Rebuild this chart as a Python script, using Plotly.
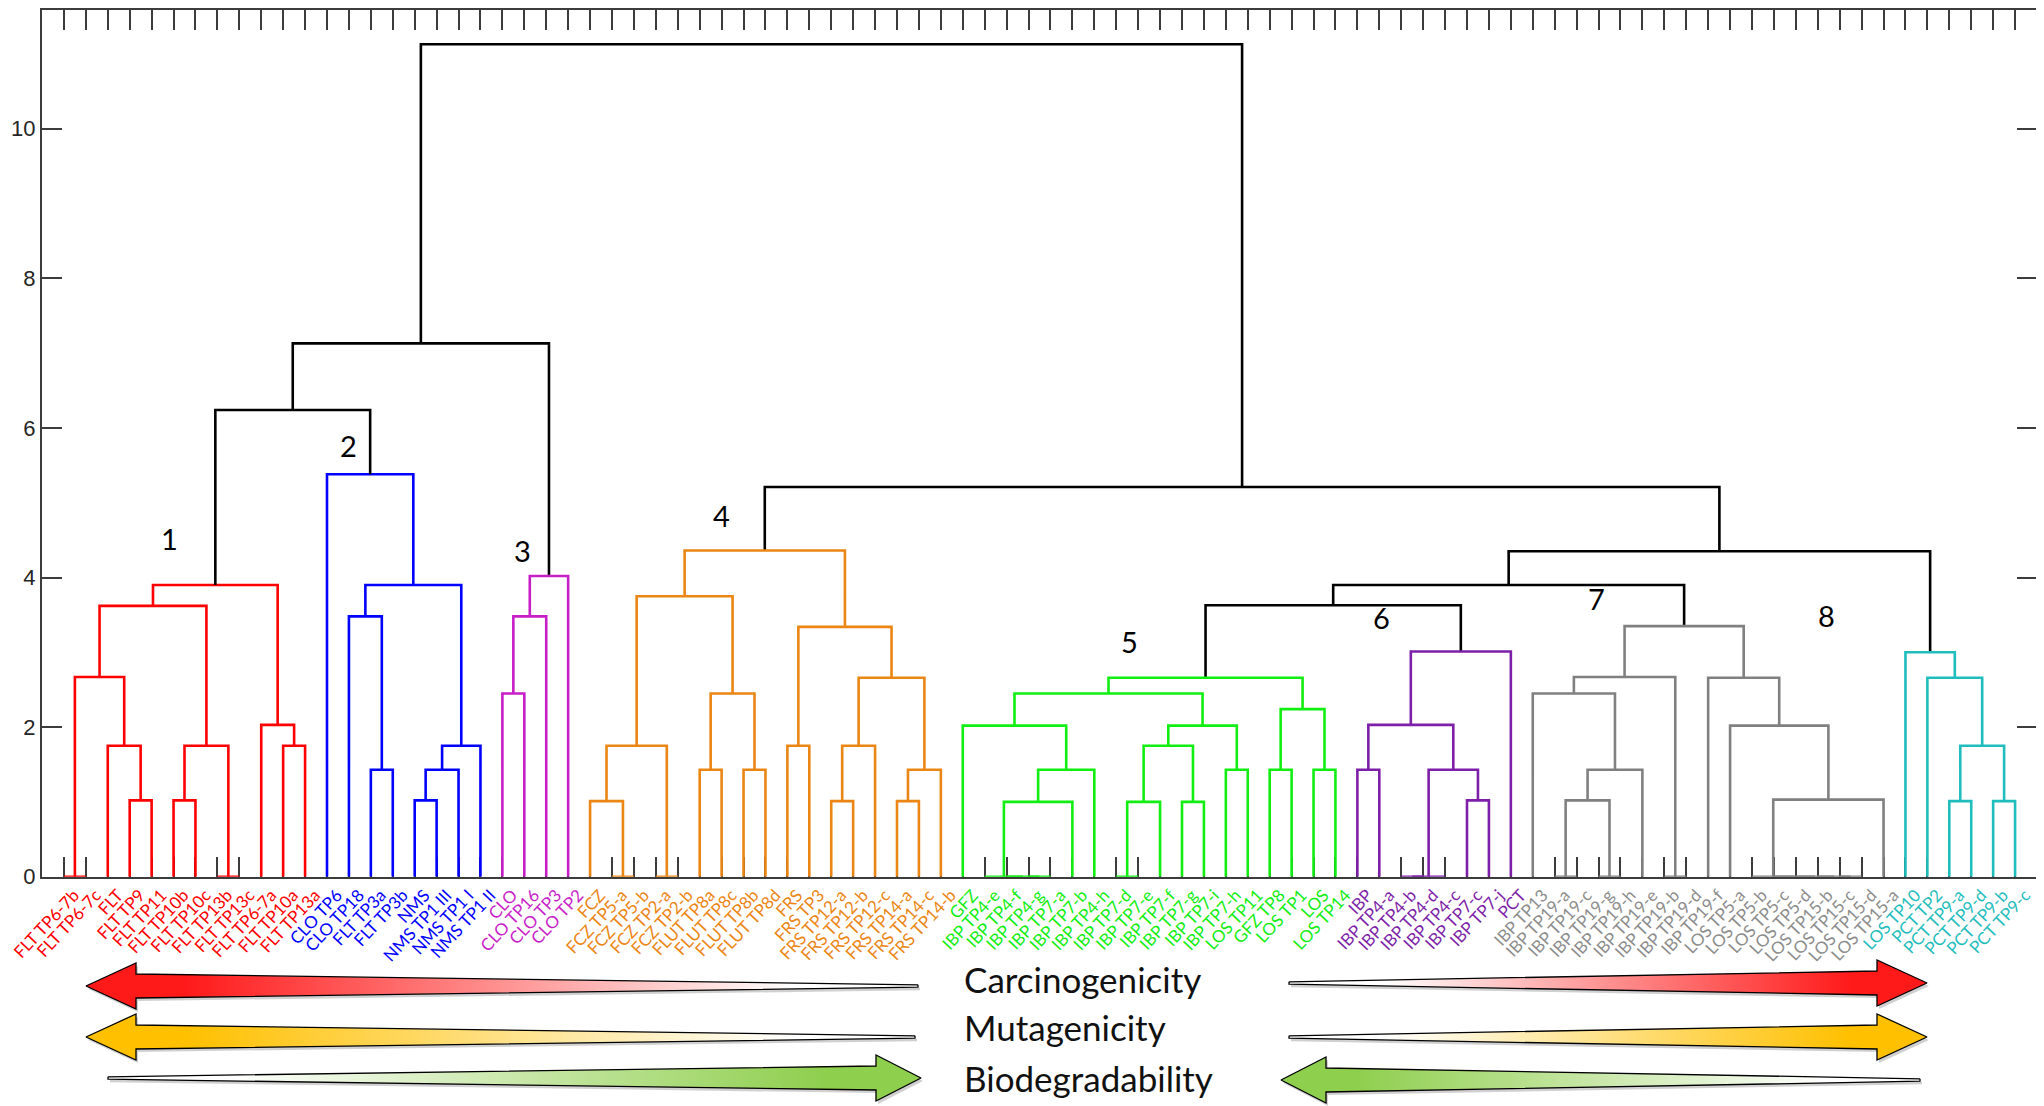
import plotly.graph_objects as go

# ---------------- data: dendrogram trees (left, right, merge height) ----------------
cluster1_tree = (
    ((("FLT TP6-7b", "FLT TP6-7c", 0.0), ("FLT", ("FLT TP9", "FLT TP11", 1.02), 1.75), 2.67),
     (("FLT TP10b", "FLT TP10c", 1.02), ("FLT TP13b", "FLT TP13c", 0.0), 1.75), 3.62),
    ("FLT TP6-7a", ("FLT TP10a", "FLT TP13a", 1.75), 2.03), 3.90)

cluster2_tree = (
    "CLO TP6",
    (("CLO TP18", ("FLT TP3a", "FLT TP3b", 1.43), 3.48),
     ((("NMS", "NMS TP1 III", 1.02), "NMS TP1 I", 1.43), "NMS TP1 II", 1.75), 3.90),
    5.38)

cluster3_tree = ((("CLO", "CLO TP16", 2.45), "CLO TP3", 3.48), "CLO TP2", 4.02)

cluster4_tree = (
    ((("FCZ", ("FCZ TP5-a", "FCZ TP5-b", 0.0), 1.01), ("FCZ TP2-a", "FCZ TP2-b", 0.0), 1.75),
     (("FLUT TP8a", "FLUT TP8c", 1.43), ("FLUT TP8b", "FLUT TP8d", 1.43), 2.45), 3.75),
    (("FRS", "FRS TP3", 1.75),
     ((("FRS TP12-a", "FRS TP12-b", 1.01), "FRS TP12-c", 1.75),
      (("FRS TP14-a", "FRS TP14-c", 1.01), "FRS TP14-b", 1.43), 2.66), 3.34),
    4.36)

cluster5_tree = (
    (("GFZ", ((("IBP TP4-e", ("IBP TP4-f", ("IBP TP4-g", "IBP TP7-a", 0.0), 0.0), 0.0),
               "IBP TP7-b", 1.00), "IBP TP4-h", 1.43), 2.02),
     (((("IBP TP7-d", "IBP TP7-e", 0.0), "IBP TP7-f", 1.00), ("IBP TP7-g", "IBP TP7-i", 1.00), 1.75),
      ("IBP TP7-h", "LOS TP11", 1.43), 2.02), 2.45),
    (("GFZ TP8", "LOS TP1", 1.43), ("LOS", "LOS TP14", 1.43), 2.24),
    2.66)

cluster6_tree = (
    (("IBP", "IBP TP4-a", 1.43),
     ((("IBP TP4-b", "IBP TP4-d", 0.0), "IBP TP4-c", 0.0), ("IBP TP7-c", "IBP TP7-j", 1.02), 1.43), 2.03),
    "PCT", 3.01)

cluster7_tree = (
    (("IBP TP13", ((("IBP TP19-a", "IBP TP19-c", 0.0), ("IBP TP19-g", "IBP TP19-h", 0.0), 1.02),
                   "IBP TP19-e", 1.43), 2.45),
     ("IBP TP19-b", "IBP TP19-d", 0.0), 2.67),
    ("IBP TP19-f",
     ("LOS TP5-a",
      (("LOS TP5-b", ("LOS TP5-c", ("LOS TP5-d", ("LOS TP15-b", ("LOS TP15-c", "LOS TP15-d", 0.0),
                                                   0.0), 0.0), 0.0), 0.0), "LOS TP15-a", 1.03), 2.02), 2.66),
    3.35)

cluster8_tree = (
    "LOS TP10",
    ("PCT TP2", (("PCT TP9-a", "PCT TP9-d", 1.01), ("PCT TP9-b", "PCT TP9-c", 1.01), 1.75), 2.66),
    3.00)

# links between clusters (integers = cluster index)
top_tree = (((0, 1, 6.24), 2, 7.13), (3, (((4, 5, 3.63), 6, 3.90), 7, 4.35), 5.21), 11.13)

cluster_trees = [cluster1_tree, cluster2_tree, cluster3_tree, cluster4_tree,
                 cluster5_tree, cluster6_tree, cluster7_tree, cluster8_tree]
cluster_colors = ["#FF0000", "#0000FF", "#C81EC8", "#EB8513",
                  "#11EE11", "#7D1FA8", "#808080", "#1FBDBD"]
label_colors = ["#FF0000", "#0000FF", "#C81EC8", "#EB8513",
                "#11EE11", "#7D1FA8", "#8C8C8C", "#1FBDBD"]
link_color = "#000000"

cluster_numbers = ["1", "2", "3", "4", "5", "6", "7", "8"]
cluster_number_x = [5.8, 14.0, 21.9, 31.0, 49.6, 61.1, 70.9, 81.4]
cluster_number_y = [4.52, 5.76, 4.36, 4.83, 3.14, 3.47, 3.72, 3.49]

y_ticks = [0, 2, 4, 6, 8, 10]

# bottom arrows (decoration, in pixel-like coordinates of an overlay axis)
arrow_names = ["Carcinogenicity", "Mutagenicity", "Biodegradability"]
arrow_colors = ["#FF1A1A", "#FFC000", "#8FCF4E"]
arrow_rows_y = [979, 1027, 1078]

# ---------------- build leaves and segments ----------------
leaves, leaf_cluster = [], []


def collect(node, k):
    if isinstance(node, str):
        leaves.append(node)
        leaf_cluster.append(k)
    else:
        collect(node[0], k)
        collect(node[1], k)


def collect_top(node):
    if isinstance(node, int):
        collect(cluster_trees[node], node)
    else:
        collect_top(node[0])
        collect_top(node[1])


collect_top(top_tree)
pos = {name: i + 1 for i, name in enumerate(leaves)}

segs = {}


def add_seg(color, xs, ys):
    s = segs.setdefault(color, ([], []))
    s[0].extend(xs + [None])
    s[1].extend(ys + [None])


def draw(node, color):
    if isinstance(node, str):
        return pos[node], 0.0
    l, r, h = node
    xl, hl = draw(l, color)
    xr, hr = draw(r, color)
    add_seg(color, [xl, xl, xr, xr], [hl, h, h, hr])
    return (xl + xr) / 2.0, h


def draw_top(node):
    if isinstance(node, int):
        return draw(cluster_trees[node], cluster_colors[node])
    l, r, h = node
    xl, hl = draw_top(l)
    xr, hr = draw_top(r)
    add_seg(link_color, [xl, xl, xr, xr], [hl, h, h, hr])
    return (xl + xr) / 2.0, h


draw_top(top_tree)

fig = go.Figure()
for color, (xs, ys) in segs.items():
    fig.add_trace(go.Scatter(x=xs, y=ys, mode="lines",
                             line=dict(color=color, width=2.6),
                             hoverinfo="skip", showlegend=False))

# ---------------- arrows ----------------
def arrow_poly(tail_x, tip_x, yc, head_len, head_half, shaft_half, tail_half):
    d = 1 if tip_x > tail_x else -1
    hb = tip_x - d * head_len
    xs = [tail_x, hb, hb, tip_x, hb, hb, tail_x, tail_x]
    ys = [yc - tail_half, yc - shaft_half, yc - head_half, yc,
          yc + head_half, yc + shaft_half, yc + tail_half, yc - tail_half]
    return xs, ys


# (tail x, tip x, centre y, colour index)
arrow_specs = [
    (918, 86, 986, 0), (1289, 1927, 983, 0),
    (915, 86, 1037, 1), (1289, 1927, 1037, 1),
    (108, 921, 1078, 2), (1920, 1281, 1080, 2),
]
for tail, tip, yc, ci in arrow_specs:
    xs, ys = arrow_poly(tail, tip, yc, 50 if ci < 2 else 45, 23, 12, 1.2)
    col = arrow_colors[ci]
    if tip < tail:
        cs = [[0, col], [0.12, col], [0.85, "#FFFFFF"], [1, "#FFFFFF"]]
        st, sp = tip, tail
    else:
        cs = [[0, "#FFFFFF"], [0.15, "#FFFFFF"], [0.88, col], [1, col]]
        st, sp = tail, tip
    # soft shadow
    fig.add_trace(go.Scatter(x=[v + 2 for v in xs], y=[v + 3 for v in ys], mode="lines",
                             fill="toself", fillcolor="rgba(120,120,120,0.35)",
                             line=dict(width=0, color="rgba(0,0,0,0)"),
                             xaxis="x2", yaxis="y2", hoverinfo="skip", showlegend=False))
    fig.add_trace(go.Scatter(x=xs, y=ys, mode="lines", fill="toself",
                             fillgradient=dict(type="horizontal", colorscale=cs, start=st, stop=sp),
                             line=dict(color="#000000", width=1.3),
                             xaxis="x2", yaxis="y2", hoverinfo="skip", showlegend=False))

annotations = []
for name, yy in zip(arrow_names, arrow_rows_y):
    annotations.append(dict(x=962, y=yy, xref="x2", yref="y2", text=name, showarrow=False,
                            xanchor="left", yanchor="middle",
                            font=dict(family="Lato", size=35, color="#111111")))
for t, xx, yy in zip(cluster_numbers, cluster_number_x, cluster_number_y):
    annotations.append(dict(x=xx, y=yy, xref="x", yref="y", text=t, showarrow=False,
                            xanchor="center", yanchor="middle",
                            font=dict(family="Lato", size=29, color="#000000")))

ticktext = ['<span style="color:%s">%s</span>' % (label_colors[k], n)
            for n, k in zip(leaves, leaf_cluster)]

# the page body adds an 8px offset; figure is sized so target pixels line up
OFF = 8
W, H = 2044 - OFF, 1106 - OFF
mt, mb, ml, mr = 2, 0, 42 - OFF, 7
plot_h = H - mt - mb
ydom0 = (H - (876.7 - OFF) - mb) / plot_h
y_top = (876.7 - (mt + OFF)) / 74.8
axis_col = "#3C3C3C"

fig.update_layout(
    width=W, height=H,
    margin=dict(l=ml, r=mr, t=mt, b=mb),
    paper_bgcolor="white", plot_bgcolor="white",
    showlegend=False,
    annotations=annotations,
    xaxis=dict(domain=[0, 1], range=[0, len(leaves) + 1], tickmode="array",
               tickvals=list(range(1, len(leaves) + 1)), ticktext=ticktext,
               tickangle=-47, ticks="inside", ticklen=20, tickwidth=1.5, tickcolor=axis_col,
               mirror="allticks", showline=True, linewidth=2, linecolor=axis_col,
               layer="below traces", showgrid=False, zeroline=False,
               ticklabeloverflow="allow", automargin=False, ticklabelshift=10,
               tickfont=dict(family="Lato", size=17), anchor="y"),
    yaxis=dict(domain=[ydom0, 1], range=[0, y_top], tickmode="array", tickvals=y_ticks,
               ticks="inside", ticklen=20, tickwidth=1.5, tickcolor=axis_col,
               mirror="allticks", showline=True, linewidth=2, linecolor=axis_col,
               layer="below traces", showgrid=False, zeroline=False, automargin=False,
               tickfont=dict(family="Liberation Sans", size=22, color="#262626"), anchor="x"),
    xaxis2=dict(domain=[0, 1], range=[ml + OFF, W - mr + OFF], visible=False, anchor="y2"),
    yaxis2=dict(domain=[0, 0.2], range=[H + OFF - mb, H + OFF - mb - 0.2 * plot_h],
                visible=False, anchor="x2"),
)

fig.write_html("out.html")
